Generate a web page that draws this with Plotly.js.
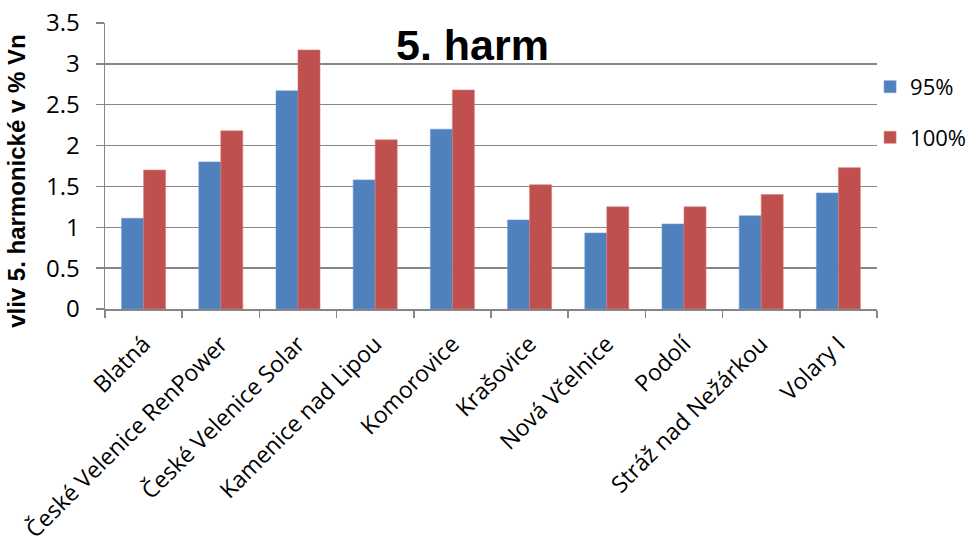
<!DOCTYPE html>
<html>
<head>
<meta charset="utf-8">
<script src="https://cdn.plot.ly/plotly-3.0.1.min.js"></script>
<style>body{margin:0;padding:0;background:#fff;} #chart{width:968px;height:536px;}</style>
</head>
<body>
<div id="chart"></div>
<script>
const categories = ["Blatná", "České Velenice RenPower", "České Velenice Solar", "Kamenice nad Lipou", "Komorovice", "Krašovice", "Nová Včelnice", "Podolí", "Stráž nad Nežárkou", "Volary I"];
const series95 = [1.11, 1.80, 2.67, 1.58, 2.20, 1.09, 0.93, 1.04, 1.14, 1.42];
const series100 = [1.70, 2.18, 3.17, 2.07, 2.68, 1.52, 1.25, 1.25, 1.40, 1.73];
const seriesNames = ["95%", "100%"];
const yTicks = [0, 0.5, 1, 1.5, 2, 2.5, 3, 3.5];
const yTickText = ["0", "0.5", "1", "1.5", "2", "2.5", "3", "3.5"];

const FONT = "Open Sans, Liberation Sans, Arial, sans-serif";
const BFONT = "Liberation Sans, Arial, sans-serif";
const traces = [
  {type: "bar", x: categories, y: series95, name: seriesNames[0], legendgroup: "a",
   marker: {color: "#4F81BD", line: {color: "#6E9BD3", width: 0.6}}},
  {type: "bar", x: categories, y: series100, name: seriesNames[1], legendgroup: "b",
   marker: {color: "#C0504D", line: {color: "#D77A77", width: 0.6}}}
];
const layout = {
  width: 968, height: 536,
  margin: {l: 105, r: 91, t: 23, b: 227, autoexpand: false},
  paper_bgcolor: "#fff", plot_bgcolor: "#fff",
  barmode: "group", bargap: 0.43, bargroupgap: 0,
  font: {family: FONT, size: 21, color: "#000"},
  showlegend: true,
  legend: {x: 0.991, xanchor: "left", y: 0.85, yanchor: "top", font: {size: 22, family: FONT},
           tracegroupgap: 19, itemwidth: 30, bgcolor: "rgba(0,0,0,0)"},
  xaxis: {type: "category", tickangle: -45, tickson: "boundaries", ticks: "outside", ticklen: 7,
          tickcolor: "#868686", tickwidth: 1.5, showline: true, linecolor: "#868686", linewidth: 1.5,
          showgrid: false, tickfont: {size: 23, family: FONT}, ticklabelstandoff: 11, automargin: false},
  yaxis: {range: [0, 3.5], tickvals: yTicks, ticktext: yTickText, ticks: "outside", ticklen: 8,
          tickcolor: "#868686", tickwidth: 1.5, showline: true, linecolor: "#868686", linewidth: 1.5,
          showgrid: true, gridcolor: "#868686", gridwidth: 1.5, zeroline: false,
          tickfont: {size: 24, family: FONT}, ticklabelstandoff: 11, automargin: false},
  annotations: [
    {text: "<b>5. harm</b>", xref: "paper", yref: "paper", x: 0.476, y: 0.923, xanchor: "center", yanchor: "middle",
     showarrow: false, font: {size: 43, family: BFONT, color: "#000"}},
    {text: "<b>vliv 5. harmonické v % Vn</b>", xref: "paper", yref: "paper", x: -0.114, y: 0.448,
     xanchor: "center", yanchor: "middle", textangle: -90, showarrow: false,
     font: {size: 24, family: BFONT, color: "#000"}}
  ]
};
Plotly.newPlot("chart", traces, layout, {displayModeBar: false, staticPlot: true});
</script>
</body>
</html>
